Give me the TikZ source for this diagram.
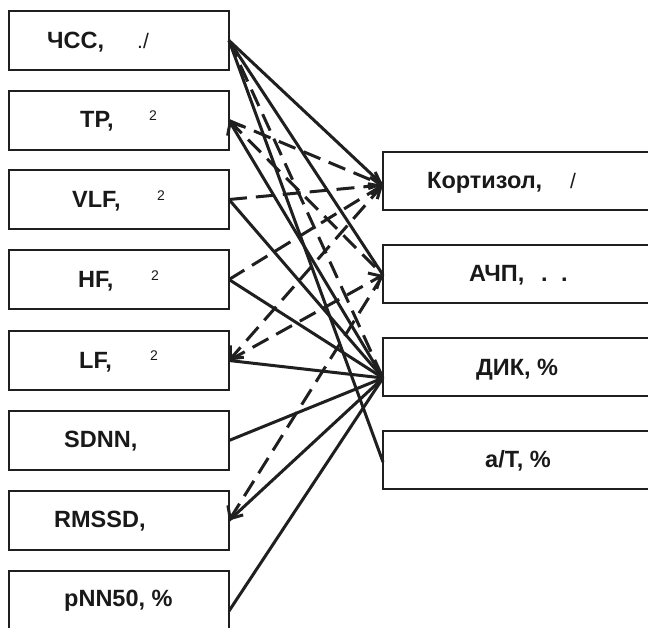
\documentclass[tikz,border=0pt]{standalone}
\usepackage{fontspec}
\setmainfont{Liberation Sans}
\usetikzlibrary{arrows.meta}
\begin{document}
\begin{tikzpicture}[x=1pt,y=-1pt,
  box/.style={draw=black!88, line width=2.1pt, minimum width=220pt, anchor=north west, inner sep=0pt, outer sep=0pt},
  lbox/.style={box, minimum height=59pt},
  rbox/.style={box, minimum width=330pt, minimum height=58pt},
  lbl/.style={anchor=base west, inner sep=0pt, text=black!90, font=\fontsize{23.5}{26}\selectfont\bfseries},
  unit/.style={anchor=base west, inner sep=0pt, text=black!90, font=\fontsize{21}{26}\selectfont},
  suptxt/.style={anchor=base west, inner sep=0pt, text=black!90, font=\fontsize{14}{15}\selectfont},
  posline/.style={line width=3pt, draw=black!88},
  negline/.style={line width=3pt, draw=black!88, dash pattern=on 18pt off 9pt},
  tiparrow/.style={-{Straight Barb[length=10pt,width=18pt,line width=3pt]}}
]
\useasboundingbox (0,0) rectangle (648,627);
\clip (0,0) rectangle (648,627);
\fill[white] (0,0) rectangle (648,627);

% left boxes
\node[lbox] (b1) at (9,11) {};
\node[lbox] (b2) at (9,91) {};
\node[lbox] (b3) at (9,170) {};
\node[lbox] (b4) at (9,250) {};
\node[lbox] (b5) at (9,331) {};
\node[lbox] (b6) at (9,411) {};
\node[lbox] (b7) at (9,491) {};
\node[box, minimum height=80pt] (b8) at (9,571) {};

% right boxes
\node[rbox] (r1) at (383,152) {};
\node[rbox] (r2) at (383,245) {};
\node[rbox] (r3) at (383,338) {};
\node[rbox] (r4) at (383,431) {};

% texts
\node[lbl] (t1) at (47,48.5) {ЧСС,};
\node[unit] (u1) at (137,48.5) {./};
\node[lbl] (t2) at (80,127.5) {TP,};
\node[suptxt] (s2) at (149,120) {2};
\node[lbl] (t3) at (72,207.5) {VLF,};
\node[suptxt] (s3) at (157,200) {2};
\node[lbl] (t4) at (78,287.5) {HF,};
\node[suptxt] (s4) at (151,280) {2};
\node[lbl] (t5) at (79,368) {LF,};
\node[suptxt] (s5) at (150,360.5) {2};
\node[lbl] (t6) at (64,447.5) {SDNN,};
\node[lbl] (t7) at (54,527.5) {RMSSD,};
\node[lbl] (t8) at (64,606.5) {pNN50, \%};

\node[lbl] (k1) at (427,188.5) {Кортизол,};
\node[unit] (k2) at (570,188.5) {/};
\node[lbl] (a1) at (469,281.5) {АЧП,};
\node[lbl] (a2) at (541,281.5) {.};
\node[lbl] (a3) at (561,281.5) {.};
\node[lbl] (d1) at (476,375) {ДИК, \%};
\node[lbl] (e1) at (485,467) {а/Т, \%};

% connection points on the right boxes
\coordinate (kp) at (383,185);
\coordinate (ap) at (383,275);
\coordinate (dp) at (383,378);
\coordinate (tp) at (383,462);

% connectors
\draw[posline] (b1.east) -- (kp);
\draw[posline] (b1.east) -- (ap);
\draw[negline] (b1.east) -- (dp);
\draw[posline] (b1.east) -- (tp);

\draw[negline,tiparrow] (b2.east) -- (kp);
\draw[negline] (b2.east) -- (ap);
\draw[posline,tiparrow] (dp) -- (b2.east);

\draw[negline,tiparrow] (b3.east) -- (kp);
\draw[posline] (b3.east) -- (dp);

\draw[negline,tiparrow] (b4.east) -- (kp);
\draw[posline] (b4.east) -- (dp);

\draw[negline,tiparrow] (kp) -- (b5.east);
\draw[negline,tiparrow] (b5.east) -- (ap);
\draw[posline] (b5.east) -- (dp);

\draw[posline] (b6.east) -- (dp);

\draw[negline,tiparrow] (ap) -- (b7.east);
\draw[posline] (b7.east) -- (dp);

\draw[posline] (b8.east) -- (dp);
\end{tikzpicture}
\end{document}
